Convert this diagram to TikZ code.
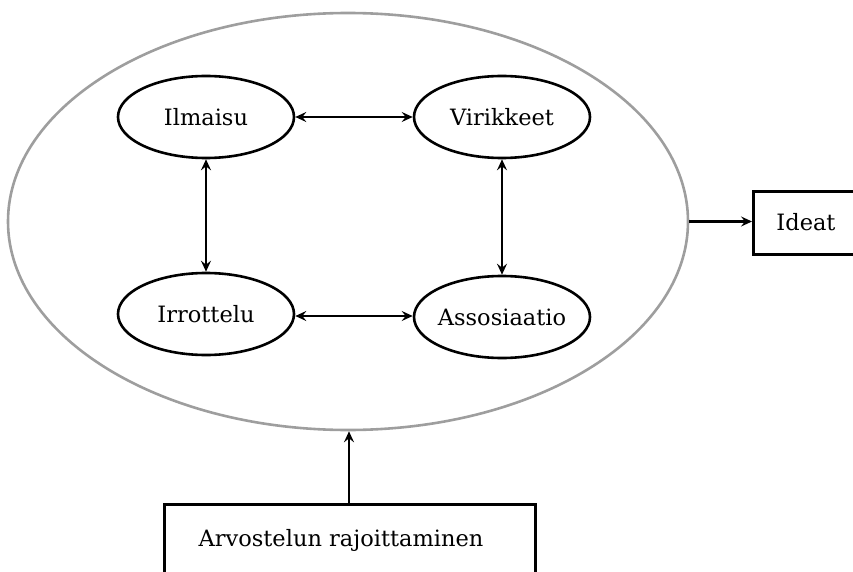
\documentclass[tikz,border=0pt]{standalone}
\usepackage{fontspec}
\setmainfont{DejaVu Serif}
\usetikzlibrary{shapes.geometric,arrows.meta}
\tikzset{
  label font/.style={font=\fontsize{22.5}{26}\selectfont},
  % fixed-size ellipse: the text is set in a zero-width box so it never stretches the shape
  phase/.style={ellipse, draw, line width=2.6pt, minimum width=176pt, minimum height=82pt, inner sep=0pt, label font,
    execute at begin node={\hbox to 0pt\bgroup\hss}, execute at end node={\hss\egroup}},
  outer/.style={ellipse, draw=black!38, line width=2.6pt, minimum width=680pt, minimum height=417pt, inner sep=0pt},
  textbox/.style={rectangle, draw, line width=2.6pt, inner sep=0pt},
  link/.style={line width=2.6pt, {Stealth[length=11pt,width=10pt,inset=4pt]}-{Stealth[length=11pt,width=10pt,inset=4pt]}},
  feed/.style={line width=2.6pt, -{Stealth[length=11pt,width=10pt,inset=4pt]}}
}
\begin{document}
\begin{tikzpicture}[x=1pt,y=-1pt]
  \useasboundingbox (0,0) rectangle (853,572);
  \clip (0,0) rectangle (853,572);
  % surrounding process
  \node[outer] (proc) at (348,221.5) {};
  % four phases
  \node[phase] (ilm) at (206,117) {Ilmaisu};
  \node[phase] (vir) at (502,117) {Virikkeet};
  \node[phase] (irr) at (206,314) {Irrottelu};
  \node[phase] (ass) at (502,317) {Assosiaatio};
  % output and constraint boxes (partly outside the page)
  \node[textbox, minimum width=120pt, minimum height=63pt, anchor=north west] (ide) at (752,190) {};
  \node[label font] (idet) at (806,222) {Ideat};
  \node[textbox, minimum width=371pt, minimum height=100pt, anchor=north west] (arv) at (163,503) {};
  \node[label font] (arvt) at (341,540) {Arvostelun rajoittaminen};
  % connectors between phases
  \coordinate (lowrow) at (0,316);
  \draw[link] (irr.east |- lowrow) -- (ass.west |- lowrow);
  \draw[link] (ilm.east) -- (vir.west);
  \draw[link] (ilm.south) -- (irr.north);
  \draw[link] (vir.south) -- (ass.north);
  % output and constraint arrows
  \draw[feed] (proc.east) -- (proc.east -| ide.west);
  \coordinate (arvtop) at (349,503);
  \draw[feed] (arvtop) -- (proc.south -| arvtop);
\end{tikzpicture}
\end{document}
